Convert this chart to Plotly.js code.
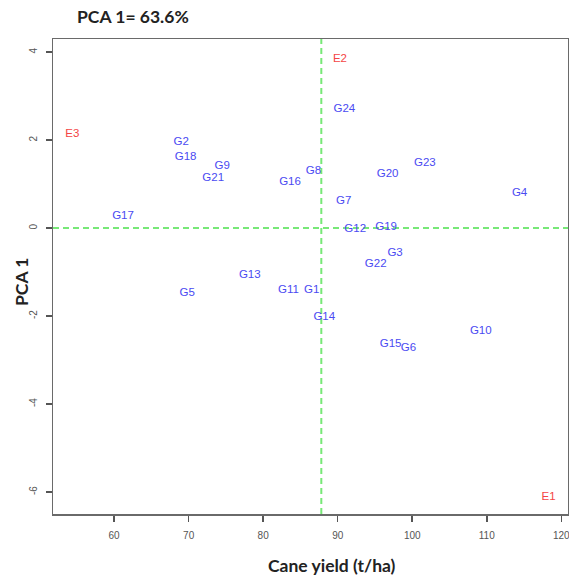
<!DOCTYPE html>
<html>
<head>
<meta charset="utf-8">
<script src="https://cdn.plot.ly/plotly-3.0.1.min.js"></script>
<style>html,body{margin:0;padding:0;background:#fff;}#chart{width:569px;height:578px;}</style>
</head>
<body>
<div id="chart"></div>
<script>
// Genotype labels and coordinates (cane yield, PCA 1 score)
const genotypes = ["G1","G2","G3","G4","G5","G6","G7","G8","G9","G10","G11","G12","G13","G14","G15","G16","G17","G18","G19","G20","G21","G22","G23","G24"];
const genoYield = [86.5,69.0,97.7,114.4,69.8,99.5,90.8,86.75,74.5,109.2,83.4,92.35,78.2,88.2,97.1,83.6,61.2,69.6,96.5,96.7,73.3,95.1,101.7,90.9];
const genoPCA =   [-1.41,1.95,-0.56,0.79,-1.48,-2.73,0.62,1.30,1.42,-2.35,-1.41,-0.03,-1.07,-2.03,-2.64,1.04,0.27,1.61,0.02,1.22,1.14,-0.82,1.48,2.70];

// Environment labels and coordinates
const environments = ["E1","E2","E3"];
const envYield = [118.3,90.3,54.4];
const envPCA = [-6.11,3.84,2.14];

// Reference lines: grand mean yield and PCA = 0
const meanYield = 87.8;
const pcaZero = 0;

const xTicks = [60,70,80,90,100,110,120];
const yTicks = [-6,-4,-2,0,2,4];

const labelFont = {family: "Liberation Sans, Arial, sans-serif", size: 11.5};

const traces = [
  {
    type: "scatter", mode: "text",
    x: genoYield, y: genoPCA, text: genotypes,
    textposition: "middle center",
    textfont: Object.assign({color: "#4a4af2"}, labelFont),
    hoverinfo: "text", showlegend: false
  },
  {
    type: "scatter", mode: "text",
    x: envYield, y: envPCA, text: environments,
    textposition: "middle center",
    textfont: Object.assign({color: "#f44444"}, labelFont),
    hoverinfo: "text", showlegend: false
  }
];

const axisCommon = {
  showgrid: false, zeroline: false,
  showline: true, mirror: true, linecolor: "#6a6a6a", linewidth: 1.5,
  ticks: "outside", ticklen: 6, tickwidth: 1.5, tickcolor: "#555",
  ticklabeloverflow: "allow",
  tickfont: {family: "Liberation Sans, Arial, sans-serif", size: 10, color: "#555"}
};

const layout = {
  width: 569, height: 578,
  margin: {l: 53, r: 1, t: 39, b: 64},
  paper_bgcolor: "#fff", plot_bgcolor: "#fff",
  title: {
    text: "<b>PCA 1= 63.6%</b>",
    font: {family: "Lato, Open Sans, sans-serif", size: 17.5, color: "#222"},
    xref: "container", yref: "container",
    x: 77/569, xanchor: "left", y: 1 - 17/578, yanchor: "middle"
  },
  xaxis: Object.assign({}, axisCommon, {
    range: [51.8, 120.9], tickvals: xTicks, ticktext: xTicks.map(String),
    ticklabelstandoff: 5,
    title: {text: ""}
  }),
  yaxis: Object.assign({}, axisCommon, {
    range: [-6.5, 4.3], tickvals: yTicks, ticktext: yTicks.map(String),
    tickangle: -90, ticklabelstandoff: 5, title: {text: ""}
  }),
  shapes: [
    {type: "line", xref: "x", yref: "paper", x0: meanYield, x1: meanYield, y0: 0, y1: 1,
     line: {color: "#77e877", width: 2, dash: "6px,4px"}, layer: "below"},
    {type: "line", xref: "paper", yref: "y", x0: 0, x1: 1, y0: pcaZero, y1: pcaZero,
     line: {color: "#77e877", width: 2, dash: "6px,4px"}, layer: "below"}
  ],
  annotations: [
    {text: "<b>Cane yield (t/ha)</b>", xref: "paper", yref: "paper",
     x: (332-53)/515, y: 0, xanchor: "center", yanchor: "middle", yshift: -51,
     showarrow: false, font: {family: "Lato, Open Sans, sans-serif", size: 17.5, color: "#222"}},
    {text: "<b>PCA 1</b>", xref: "paper", yref: "paper",
     x: 0, y: (514-282)/475, xanchor: "center", yanchor: "middle", xshift: -32,
     textangle: -90, showarrow: false,
     font: {family: "Lato, Open Sans, sans-serif", size: 17.5, color: "#222"}}
  ]
};

Plotly.newPlot("chart", traces, layout, {displayModeBar: false, staticPlot: true});
</script>
</body>
</html>
